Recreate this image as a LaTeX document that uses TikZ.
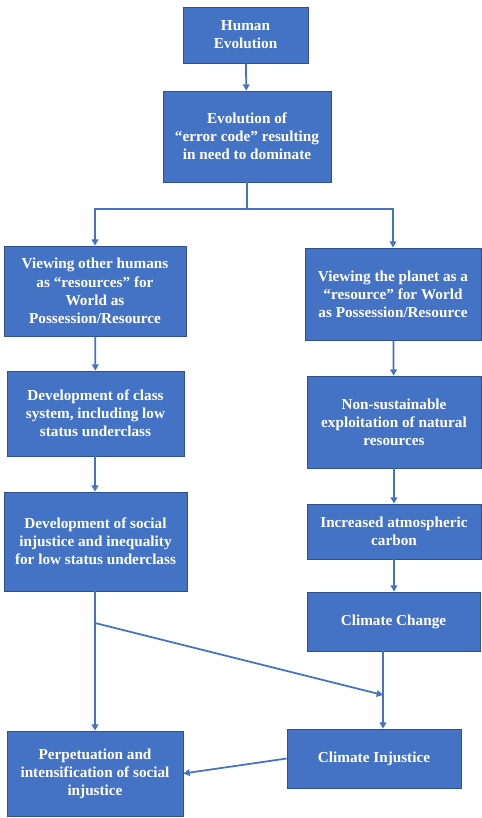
\documentclass[tikz,border=0pt]{standalone}
\usepackage{fontspec}
\setmainfont{Liberation Serif}
\usetikzlibrary{arrows.meta,fit,calc}
\definecolor{boxblue}{HTML}{4472C4}
\definecolor{boxedge}{HTML}{2F528F}
\tikzset{
  flow box/.style={
    rectangle,
    fill=boxblue,
    draw=boxedge,
    line width=0.6pt,
    inner sep=0pt
  },
  box text/.style={
    align=center,
    text=white,
    inner sep=0pt,
    font=\fontsize{13}{15.5}\selectfont\bfseries
  },
  flow line/.style={draw=boxblue, line width=1.5pt},
  flow arrow/.style={flow line, -{Triangle[length=1.9mm,width=2mm]}}
}
% box from two corners given in pixels, text set in its middle
\newcommand{\flowbox}[3]{
    \node[flow box, fit={#1}] (#2) {};
    \node[box text] (#2 text) at (#2.center) {#3};
}

\begin{document}
\begin{tikzpicture}[x=0.03cm, y=-0.03cm]
    \useasboundingbox[fill=white] (0,0) rectangle (482,818);

    % Top
    \flowbox{(183,7) (308,63)}{human}{Human\\Evolution}
    \flowbox{(163,91) (331,182)}{errcode}{Evolution of\\``error code'' resulting\\in need to dominate}

    % Left branch
    \flowbox{(4,246) (186,336)}{viewhum}{Viewing other humans\\as ``resources'' for\\World as\\Possession/Resource}
    \flowbox{(7,371) (184,456)}{classsys}{Development of class\\system, including low\\status underclass}
    \flowbox{(4,492) (187,591)}{socinj}{Development of social\\injustice and inequality\\for low status underclass}
    \flowbox{(7,731) (183,816)}{perpet}{Perpetuation and\\intensification of social\\injustice}

    % Right branch
    \flowbox{(305,248) (481,340)}{viewplan}{Viewing the planet as a\\``resource'' for World\\as Possession/Resource}
    \flowbox{(307,376) (481,468)}{exploit}{Non-sustainable\\exploitation of natural\\resources}
    \flowbox{(307,504) (481,559)}{carbon}{Increased atmospheric\\carbon}
    \flowbox{(307,592) (480,651)}{change}{Climate Change}
    \flowbox{(287,729) (461,788)}{climinj}{Climate Injustice}

    % Connectors
    \coordinate (split) at (247,209);
    \coordinate (fork) at (95,623);
    \coordinate (meet) at (383,695);

    \draw[flow arrow] (human) -- (errcode);
    \draw[flow line] (errcode) -- (split);
    \draw[flow arrow] (split) -| (viewhum);
    \draw[flow arrow] (split) -| (viewplan);

    \draw[flow arrow] (viewhum) -- (classsys);
    \draw[flow arrow] (classsys.south -| fork) -- (fork |- socinj.north);
    \draw[flow line] (socinj.south -| fork) -- (fork);
    \draw[flow arrow] (fork) -- (fork |- perpet.north);
    \draw[flow arrow] (fork) -- (meet);

    \draw[flow arrow] (viewplan) -- (exploit);
    \draw[flow arrow] (exploit) -- (carbon);
    \draw[flow arrow] (carbon) -- (carbon |- change.north);
    \draw[flow arrow] (change.south -| meet) -- (meet |- climinj.north);
    \draw[flow arrow] (climinj.west) -- (perpet.east);
\end{tikzpicture}
\end{document}
